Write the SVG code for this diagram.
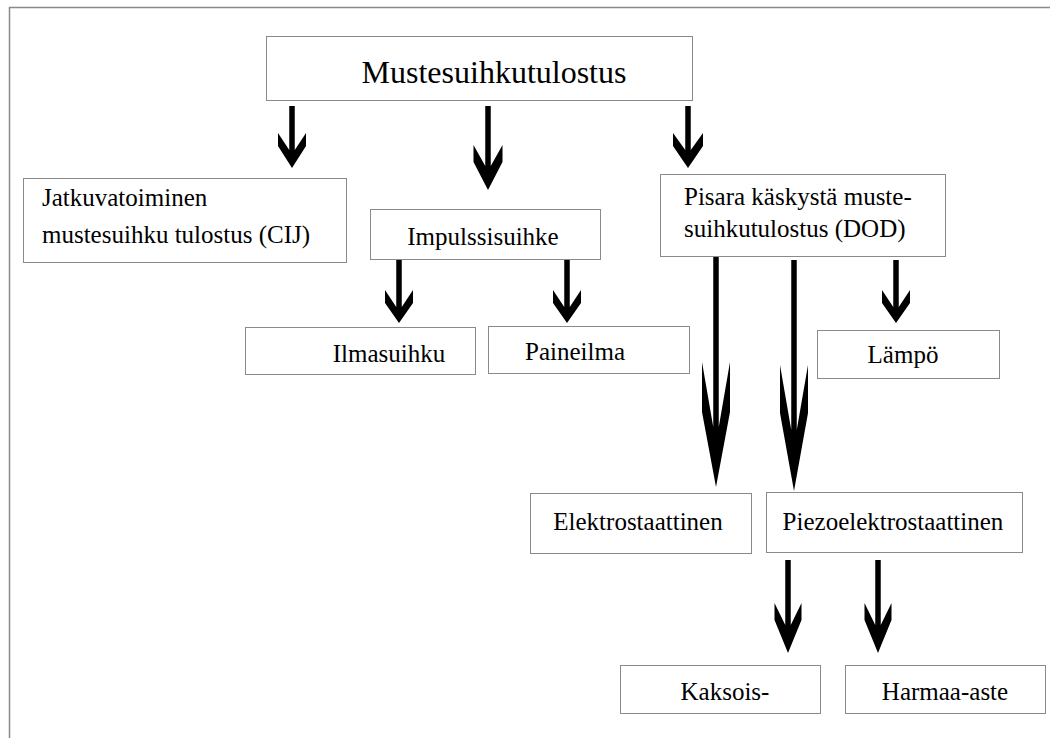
<svg xmlns="http://www.w3.org/2000/svg" width="1050" height="738" viewBox="0 0 1050 738">
<style>
.box{fill:#fff;stroke:#8a8a8a;stroke-width:1}
text{font-family:'Liberation Serif','Times New Roman',serif;font-size:25px;fill:#000}
text.big{font-size:32px}
.arr{fill:#000}
</style>
<rect width="1050" height="738" fill="#fff"/>
<path d="M9.5 738V7.5H1050" fill="none" stroke="#8a8a8a" stroke-width="1.5"/>
<g id="connectors">
<polygon class="arr" points="289.25,106 294.75,106 294.75,150 306,133 306,146 292,168 278,146 278,133 289.25,150"/>
<polygon class="arr" points="485.25,106 490.75,106 490.75,166 502.5,145 502.5,162 488,190 473.5,162 473.5,145 485.25,166"/>
<polygon class="arr" points="685.25,106 690.75,106 690.75,150 703,133 703,146 688,168 673,146 673,133 685.25,150"/>
<polygon class="arr" points="396.25,260 401.75,260 401.75,307 413,290 413,303 399,323 385,303 385,290 396.25,307"/>
<polygon class="arr" points="564.25,260 569.75,260 569.75,307 581,290 581,303 567,323 553,303 553,290 564.25,307"/>
<polygon class="arr" points="893.25,260 898.75,260 898.75,307 910,290 910,303 896,323 882,303 882,290 893.25,307"/>
<polygon class="arr" points="713.25,256 718.75,256 718.75,427 730,362 730,412 716,487 702,412 702,362 713.25,427"/>
<polygon class="arr" points="791.25,260 796.75,260 796.75,430 808,365 808,413 794,491 780,413 780,365 791.25,430"/>
<polygon class="arr" points="785.25,560 790.75,560 790.75,625 801.5,603 801.5,620 788,653 774.5,620 774.5,603 785.25,625"/>
<polygon class="arr" points="875.25,560 880.75,560 880.75,625 891.5,603 891.5,620 878,653 864.5,620 864.5,603 875.25,625"/>
</g>
<g id="n-main"><rect class="box" x="266.5" y="36.5" width="426" height="64"/><text class="big" x="494" y="83" text-anchor="middle">Mustesuihkutulostus</text></g>
<g id="n-cij"><rect class="box" x="23.5" y="178.5" width="323" height="84"/><text x="42" y="206">Jatkuvatoiminen</text><text x="42" y="243">mustesuihku tulostus (CIJ)</text></g>
<g id="n-impuls"><rect class="box" x="370.5" y="209.5" width="230" height="50"/><text x="483" y="245" text-anchor="middle">Impulssisuihke</text></g>
<g id="n-dod"><rect class="box" x="660.5" y="174.5" width="285" height="82"/><text x="684" y="205">Pisara käskystä muste-</text><text x="684" y="237">suihkutulostus (DOD)</text></g>
<g id="n-ilma"><rect class="box" x="245.5" y="327.5" width="230" height="47"/><text x="389" y="362" text-anchor="middle">Ilmasuihku</text></g>
<g id="n-paine"><rect class="box" x="488.5" y="326.5" width="201" height="47"/><text x="575" y="360" text-anchor="middle">Paineilma</text></g>
<g id="n-lampo"><rect class="box" x="817.5" y="330.5" width="182" height="48"/><text x="903" y="363" text-anchor="middle">Lämpö</text></g>
<g id="n-elektro"><rect class="box" x="530.5" y="493.5" width="221" height="60"/><text x="638" y="530" text-anchor="middle">Elektrostaattinen</text></g>
<g id="n-piezo"><rect class="box" x="766.5" y="492.5" width="256" height="60"/><text x="893" y="530" text-anchor="middle">Piezoelektrostaattinen</text></g>
<g id="n-kaksois"><rect class="box" x="620.5" y="665.5" width="200" height="48"/><text x="725" y="700" text-anchor="middle">Kaksois-</text></g>
<g id="n-harmaa"><rect class="box" x="845.5" y="665.5" width="200" height="48"/><text x="945" y="700" text-anchor="middle">Harmaa-aste</text></g>
</svg>
